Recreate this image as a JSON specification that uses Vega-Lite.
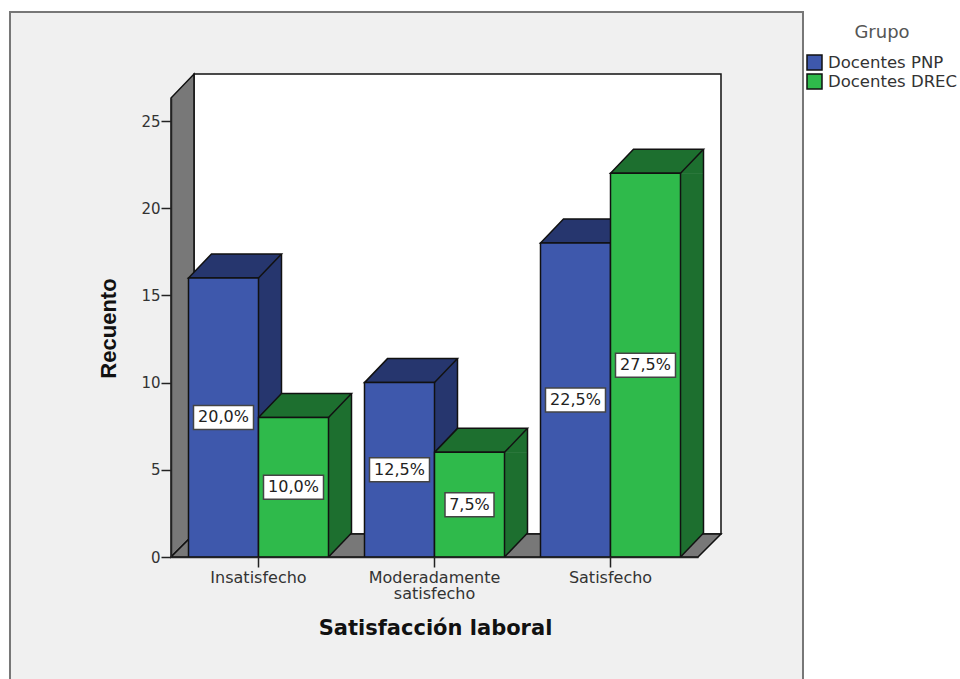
{
  "$schema": "https://vega.github.io/schema/vega-lite/v6.json",
  "width": 527,
  "height": 459,
  "autosize": "none",
  "padding": {"left": 171, "top": 98, "right": 262, "bottom": 122},
  "background": "#ffffff",
  "config": {
    "view": {"stroke": null},
    "font": "DejaVu Sans"
  },
  "datasets": {
    "counts": [
      {"satisfaccion": "Insatisfecho", "grupo": "Docentes PNP", "recuento": 16, "porcentaje": "20,0%"},
      {"satisfaccion": "Insatisfecho", "grupo": "Docentes DREC", "recuento": 8, "porcentaje": "10,0%"},
      {"satisfaccion": "Moderadamente satisfecho", "grupo": "Docentes PNP", "recuento": 10, "porcentaje": "12,5%"},
      {"satisfaccion": "Moderadamente satisfecho", "grupo": "Docentes DREC", "recuento": 6, "porcentaje": "7,5%"},
      {"satisfaccion": "Satisfecho", "grupo": "Docentes PNP", "recuento": 18, "porcentaje": "22,5%"},
      {"satisfaccion": "Satisfecho", "grupo": "Docentes DREC", "recuento": 22, "porcentaje": "27,5%"}
    ],
    "origin": [{"id": 1}]
  },
  "resolve": {"scale": {"y": "independent", "xOffset": "independent"}},
  "layer": [
    {
      "resolve": {"scale": {"xOffset": "independent"}},
      "layer": [
        {
          "description": "Grey panel behind the chart, running off the bottom of the window",
          "data": {"name": "origin"},
          "mark": {"type": "point", "size": 4, "filled": true, "opacity": 1, "fill": "#f0f0f0", "stroke": "#777777", "strokeWidth": 2,
            "shape": "M-248.5,124 L-248.5,-545 L544.5,-545 L544.5,124 Z"},
          "encoding": {
            "x": {"datum": "Insatisfecho", "type": "nominal",
              "scale": {"domain": ["Insatisfecho", "Moderadamente satisfecho", "Satisfecho"], "paddingInner": 0.2045, "paddingOuter": 0.0994},
              "axis": {
                "zindex": 1,
                "title": "Satisfacción laboral", "titleFont": "DejaVu Sans", "titleFontSize": 21, "titleFontWeight": "bold", "titleColor": "#111111",
                "titleX": 264, "titleY": 71, "titleBaseline": "middle", "titleAlign": "center", "titleAnchor": "start",
                "labelAngle": 0, "labelFont": "DejaVu Sans", "labelFontSize": 16, "labelColor": "#333333", "labelPadding": 2, "labelLineHeight": 16,
                "labelExpr": "split(datum.label, ' ')", "labelLimit": 0,
                "tickSize": 10, "tickColor": "#222222", "tickWidth": 1.5, "domainColor": "#222222", "domainWidth": 1.5, "grid": false
              }},
            "y": {"datum": 0, "type": "quantitative",
              "scale": {"domain": [0, 26.32], "nice": false},
              "axis": {
                "zindex": 1,
                "title": "Recuento", "titleFont": "Liberation Sans", "titleFontSize": 22, "titleFontWeight": "bold", "titleColor": "#111111",
                "titleX": -63, "titleY": 230, "titleAlign": "center", "titleAnchor": "start", "titleBaseline": "middle",
                "values": [0, 5, 10, 15, 20, 25], "labelFont": "DejaVu Sans", "labelFontSize": 15, "labelColor": "#333333", "labelPadding": 1,
                "tickSize": 10, "tickColor": "#222222", "tickWidth": 1.5, "domainColor": "#222222", "domainWidth": 1.5, "grid": false
              }}
          }
        },
        {
          "description": "Back wall of the box",
          "data": {"name": "origin"},
          "mark": {"type": "point", "size": 4, "filled": true, "opacity": 1, "fill": "#ffffff", "stroke": "#111111", "strokeWidth": 1.5,
            "shape": "M-64.5,-23 L-64.5,-483 L462.5,-483 L462.5,-23 Z"},
          "encoding": {"x": {"datum": "Insatisfecho", "type": "nominal"}, "y": {"datum": 0, "type": "quantitative"}}
        },
        {
          "description": "Left wall of the box",
          "data": {"name": "origin"},
          "mark": {"type": "point", "size": 4, "filled": true, "opacity": 1, "fill": "#787878", "stroke": "#111111", "strokeWidth": 1.5,
            "shape": "M-87.5,0 L-87.5,-459 L-64.5,-483 L-64.5,-23 Z"},
          "encoding": {"x": {"datum": "Insatisfecho", "type": "nominal"}, "y": {"datum": 0, "type": "quantitative"}}
        },
        {
          "description": "Floor of the box",
          "data": {"name": "origin"},
          "mark": {"type": "point", "size": 4, "filled": true, "opacity": 1, "fill": "#787878", "stroke": "#111111", "strokeWidth": 1.5,
            "shape": "M-87.5,0 L-64.5,-23 L462.5,-23 L439.5,0 Z"},
          "encoding": {"x": {"datum": "Insatisfecho", "type": "nominal"}, "y": {"datum": 0, "type": "quantitative"}}
        },
        {
          "description": "Side face of each bar: a wide rule shifted along its own offset range",
          "data": {"name": "counts"},
          "mark": {"type": "rule", "strokeWidth": 23, "y2Offset": -24},
          "encoding": {
            "x": {"field": "satisfaccion", "type": "nominal"},
            "xOffset": {"field": "grupo", "type": "nominal", "scale": {"domain": ["Docentes PNP", "Docentes DREC"], "range": [46.5, 186.5]}},
            "y": {"field": "recuento", "type": "quantitative"},
            "y2": {"datum": 0},
            "stroke": {"condition": {"test": "datum.grupo === 'Docentes PNP'", "value": "#26366e"}, "value": "#1d6f2f"}
          }
        },
        {
          "description": "Side face: upper wedge",
          "data": {"name": "counts"},
          "mark": {"type": "point", "size": 4, "filled": true, "opacity": 1, "shape": "M35,0 L58,-24 L58,0.5 L35,0.5 Z"},
          "encoding": {
            "x": {"field": "satisfaccion", "type": "nominal"},
            "xOffset": {"field": "grupo", "type": "nominal", "scale": {"domain": ["Docentes PNP", "Docentes DREC"]}},
            "y": {"field": "recuento", "type": "quantitative"},
            "fill": {"condition": {"test": "datum.grupo === 'Docentes PNP'", "value": "#26366e"}, "value": "#1d6f2f"}
          }
        },
        {
          "description": "Side face: lower wedge",
          "data": {"name": "counts"},
          "mark": {"type": "point", "size": 4, "filled": true, "opacity": 1, "shape": "M35,0 L58,-24 L35,-24 Z"},
          "encoding": {
            "x": {"field": "satisfaccion", "type": "nominal"},
            "xOffset": {"field": "grupo", "type": "nominal", "scale": {"domain": ["Docentes PNP", "Docentes DREC"]}},
            "y": {"datum": 0, "type": "quantitative"},
            "fill": {"condition": {"test": "datum.grupo === 'Docentes PNP'", "value": "#26366e"}, "value": "#1d6f2f"}
          }
        },
        {
          "description": "Side face: slanted lower edge",
          "data": {"name": "counts"},
          "mark": {"type": "point", "size": 4, "filled": false, "opacity": 1, "stroke": "#111111", "strokeWidth": 1.5, "shape": "M35,0 L58,-24"},
          "encoding": {
            "x": {"field": "satisfaccion", "type": "nominal"},
            "xOffset": {"field": "grupo", "type": "nominal", "scale": {"domain": ["Docentes PNP", "Docentes DREC"]}},
            "y": {"datum": 0, "type": "quantitative"}
          }
        },
        {
          "description": "Side face: far vertical edge",
          "data": {"name": "counts"},
          "mark": {"type": "rule", "yOffset": -24, "y2Offset": -24, "stroke": "#111111", "strokeWidth": 1.5},
          "encoding": {
            "x": {"field": "satisfaccion", "type": "nominal"},
            "xOffset": {"field": "grupo", "type": "nominal", "scale": {"domain": ["Docentes PNP", "Docentes DREC"], "range": [58, 198]}},
            "y": {"field": "recuento", "type": "quantitative"},
            "y2": {"datum": 0}
          }
        },
        {
          "description": "Top face of each bar",
          "data": {"name": "counts"},
          "mark": {"type": "point", "size": 4, "filled": true, "opacity": 1, "stroke": "#111111", "strokeWidth": 1.5, "shape": "M-35,0 L-12,-24 L58,-24 L35,0 Z"},
          "encoding": {
            "x": {"field": "satisfaccion", "type": "nominal"},
            "xOffset": {"field": "grupo", "type": "nominal", "scale": {"domain": ["Docentes PNP", "Docentes DREC"]}},
            "y": {"field": "recuento", "type": "quantitative"},
            "fill": {"condition": {"test": "datum.grupo === 'Docentes PNP'", "value": "#26366e"}, "value": "#1d6f2f"}
          }
        },
        {
          "description": "Front face of each bar, which also carries the legend",
          "data": {"name": "counts"},
          "mark": {"type": "bar", "stroke": "#111111", "strokeWidth": 1.5},
          "encoding": {
            "x": {"field": "satisfaccion", "type": "nominal"},
            "xOffset": {"field": "grupo", "type": "nominal", "scale": {"domain": ["Docentes PNP", "Docentes DREC"]}},
            "y": {"field": "recuento", "type": "quantitative", "stack": null},
            "fill": {
              "field": "grupo", "type": "nominal",
              "scale": {"domain": ["Docentes PNP", "Docentes DREC"], "range": ["#3e58ac", "#2fba4b"]},
              "legend": {
                "title": "Grupo", "orient": "none", "legendX": 635, "legendY": -74,
                "titleFont": "DejaVu Sans", "titleFontSize": 18, "titleFontWeight": "normal", "titleColor": "#555555", "titleAnchor": "middle", "titlePadding": 12,
                "symbolType": "square", "symbolSize": 225, "symbolStrokeColor": "#111111", "symbolStrokeWidth": 1.5,
                "labelFont": "DejaVu Sans", "labelFontSize": 16.5, "labelColor": "#333333", "labelOffset": 5, "rowPadding": -4, "labelLimit": 200
              }
            }
          }
        }
      ]
    },
    {
      "description": "Percentage labels at mid-height: a y scale with twice the domain places each value halfway up its bar",
      "data": {"name": "counts"},
      "encoding": {
        "x": {"field": "satisfaccion", "type": "nominal"},
        "xOffset": {"field": "grupo", "type": "nominal", "scale": {"domain": ["Docentes PNP", "Docentes DREC"]}},
        "y": {"field": "recuento", "type": "quantitative", "scale": {"domain": [0, 52.64], "nice": false}, "axis": null}
      },
      "layer": [
        {
          "mark": {"type": "point", "size": 4, "filled": true, "opacity": 1, "fill": "#ffffff", "stroke": "#444444", "strokeWidth": 1.5},
          "encoding": {
            "shape": {
              "condition": {"test": "length(datum.porcentaje) > 4", "value": "M-30,-12 L30,-12 L30,12 L-30,12 Z"},
              "value": "M-24.5,-12 L24.5,-12 L24.5,12 L-24.5,12 Z"
            }
          }
        },
        {
          "mark": {"type": "text", "font": "DejaVu Sans", "fontSize": 16, "fill": "#222222", "baseline": "middle", "align": "center"},
          "encoding": {"text": {"field": "porcentaje", "type": "nominal"}}
        }
      ]
    }
  ]
}
